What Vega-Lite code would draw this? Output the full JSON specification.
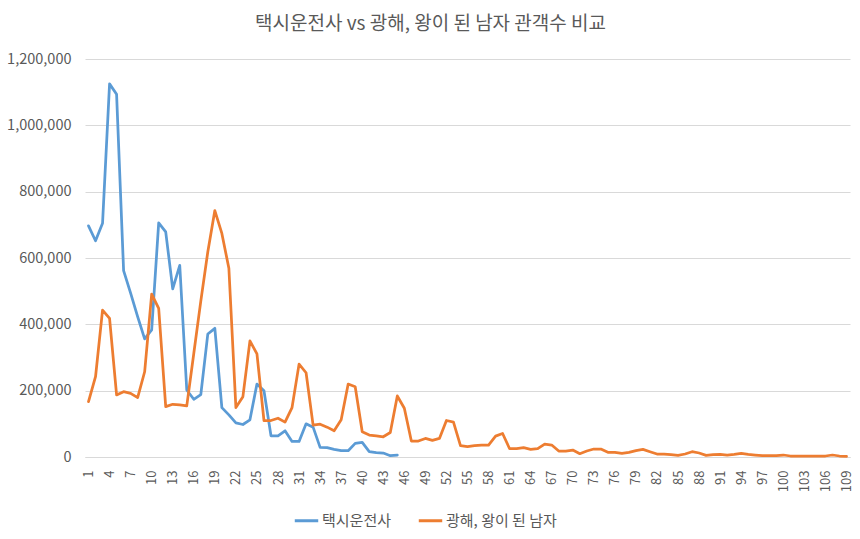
{
  "$schema": "https://vega.github.io/schema/vega-lite/v6.json",
  "autosize": "none",
  "width": 765,
  "height": 398,
  "padding": {"left": 85, "top": 59, "right": 10, "bottom": 82},
  "background": "white",
  "title": {
    "text": "택시운전사 vs 광해, 왕이 된 남자 관객수 비교",
    "font": "Noto Sans CJK KR",
    "fontSize": 19,
    "fontWeight": "normal",
    "color": "#595959",
    "anchor": "middle",
    "dx": -37,
    "offset": 17
  },
  "config": {
    "view": {"stroke": null},
    "font": "Noto Sans CJK KR",
    "axis": {
      "labelFont": "Noto Sans CJK KR",
      "labelColor": "#595959",
      "labelFontSize": 13,
      "titleFontSize": 0
    }
  },
  "data": {
    "values": [
      {"movie": "택시운전사", "day": 1, "audience": 697000},
      {"movie": "택시운전사", "day": 2, "audience": 652000},
      {"movie": "택시운전사", "day": 3, "audience": 705000},
      {"movie": "택시운전사", "day": 4, "audience": 1125000},
      {"movie": "택시운전사", "day": 5, "audience": 1094000},
      {"movie": "택시운전사", "day": 6, "audience": 562000},
      {"movie": "택시운전사", "day": 7, "audience": 494000},
      {"movie": "택시운전사", "day": 8, "audience": 423000},
      {"movie": "택시운전사", "day": 9, "audience": 356000},
      {"movie": "택시운전사", "day": 10, "audience": 383000},
      {"movie": "택시운전사", "day": 11, "audience": 706000},
      {"movie": "택시운전사", "day": 12, "audience": 679000},
      {"movie": "택시운전사", "day": 13, "audience": 507000},
      {"movie": "택시운전사", "day": 14, "audience": 578000},
      {"movie": "택시운전사", "day": 15, "audience": 202000},
      {"movie": "택시운전사", "day": 16, "audience": 174000},
      {"movie": "택시운전사", "day": 17, "audience": 188000},
      {"movie": "택시운전사", "day": 18, "audience": 371000},
      {"movie": "택시운전사", "day": 19, "audience": 388000},
      {"movie": "택시운전사", "day": 20, "audience": 149000},
      {"movie": "택시운전사", "day": 21, "audience": 127000},
      {"movie": "택시운전사", "day": 22, "audience": 103000},
      {"movie": "택시운전사", "day": 23, "audience": 98000},
      {"movie": "택시운전사", "day": 24, "audience": 112000},
      {"movie": "택시운전사", "day": 25, "audience": 220000},
      {"movie": "택시운전사", "day": 26, "audience": 200000},
      {"movie": "택시운전사", "day": 27, "audience": 64000},
      {"movie": "택시운전사", "day": 28, "audience": 64000},
      {"movie": "택시운전사", "day": 29, "audience": 79000},
      {"movie": "택시운전사", "day": 30, "audience": 47000},
      {"movie": "택시운전사", "day": 31, "audience": 47000},
      {"movie": "택시운전사", "day": 32, "audience": 100000},
      {"movie": "택시운전사", "day": 33, "audience": 90000},
      {"movie": "택시운전사", "day": 34, "audience": 29000},
      {"movie": "택시운전사", "day": 35, "audience": 28000},
      {"movie": "택시운전사", "day": 36, "audience": 23000},
      {"movie": "택시운전사", "day": 37, "audience": 19000},
      {"movie": "택시운전사", "day": 38, "audience": 19000},
      {"movie": "택시운전사", "day": 39, "audience": 41000},
      {"movie": "택시운전사", "day": 40, "audience": 44000},
      {"movie": "택시운전사", "day": 41, "audience": 16000},
      {"movie": "택시운전사", "day": 42, "audience": 13000},
      {"movie": "택시운전사", "day": 43, "audience": 12000},
      {"movie": "택시운전사", "day": 44, "audience": 4000},
      {"movie": "택시운전사", "day": 45, "audience": 6000},
      {"movie": "광해, 왕이 된 남자", "day": 1, "audience": 167000},
      {"movie": "광해, 왕이 된 남자", "day": 2, "audience": 242000},
      {"movie": "광해, 왕이 된 남자", "day": 3, "audience": 443000},
      {"movie": "광해, 왕이 된 남자", "day": 4, "audience": 418000},
      {"movie": "광해, 왕이 된 남자", "day": 5, "audience": 187000},
      {"movie": "광해, 왕이 된 남자", "day": 6, "audience": 197000},
      {"movie": "광해, 왕이 된 남자", "day": 7, "audience": 192000},
      {"movie": "광해, 왕이 된 남자", "day": 8, "audience": 179000},
      {"movie": "광해, 왕이 된 남자", "day": 9, "audience": 257000},
      {"movie": "광해, 왕이 된 남자", "day": 10, "audience": 491000},
      {"movie": "광해, 왕이 된 남자", "day": 11, "audience": 448000},
      {"movie": "광해, 왕이 된 남자", "day": 12, "audience": 152000},
      {"movie": "광해, 왕이 된 남자", "day": 13, "audience": 159000},
      {"movie": "광해, 왕이 된 남자", "day": 14, "audience": 157000},
      {"movie": "광해, 왕이 된 남자", "day": 15, "audience": 154000},
      {"movie": "광해, 왕이 된 남자", "day": 16, "audience": 312000},
      {"movie": "광해, 왕이 된 남자", "day": 17, "audience": 470000},
      {"movie": "광해, 왕이 된 남자", "day": 18, "audience": 619000},
      {"movie": "광해, 왕이 된 남자", "day": 19, "audience": 743000},
      {"movie": "광해, 왕이 된 남자", "day": 20, "audience": 674000},
      {"movie": "광해, 왕이 된 남자", "day": 21, "audience": 569000},
      {"movie": "광해, 왕이 된 남자", "day": 22, "audience": 149000},
      {"movie": "광해, 왕이 된 남자", "day": 23, "audience": 182000},
      {"movie": "광해, 왕이 된 남자", "day": 24, "audience": 350000},
      {"movie": "광해, 왕이 된 남자", "day": 25, "audience": 311000},
      {"movie": "광해, 왕이 된 남자", "day": 26, "audience": 110000},
      {"movie": "광해, 왕이 된 남자", "day": 27, "audience": 110000},
      {"movie": "광해, 왕이 된 남자", "day": 28, "audience": 117000},
      {"movie": "광해, 왕이 된 남자", "day": 29, "audience": 105000},
      {"movie": "광해, 왕이 된 남자", "day": 30, "audience": 149000},
      {"movie": "광해, 왕이 된 남자", "day": 31, "audience": 280000},
      {"movie": "광해, 왕이 된 남자", "day": 32, "audience": 254000},
      {"movie": "광해, 왕이 된 남자", "day": 33, "audience": 96000},
      {"movie": "광해, 왕이 된 남자", "day": 34, "audience": 99000},
      {"movie": "광해, 왕이 된 남자", "day": 35, "audience": 90000},
      {"movie": "광해, 왕이 된 남자", "day": 36, "audience": 79000},
      {"movie": "광해, 왕이 된 남자", "day": 37, "audience": 112000},
      {"movie": "광해, 왕이 된 남자", "day": 38, "audience": 220000},
      {"movie": "광해, 왕이 된 남자", "day": 39, "audience": 212000},
      {"movie": "광해, 왕이 된 남자", "day": 40, "audience": 76000},
      {"movie": "광해, 왕이 된 남자", "day": 41, "audience": 66000},
      {"movie": "광해, 왕이 된 남자", "day": 42, "audience": 64000},
      {"movie": "광해, 왕이 된 남자", "day": 43, "audience": 61000},
      {"movie": "광해, 왕이 된 남자", "day": 44, "audience": 74000},
      {"movie": "광해, 왕이 된 남자", "day": 45, "audience": 184000},
      {"movie": "광해, 왕이 된 남자", "day": 46, "audience": 147000},
      {"movie": "광해, 왕이 된 남자", "day": 47, "audience": 48000},
      {"movie": "광해, 왕이 된 남자", "day": 48, "audience": 48000},
      {"movie": "광해, 왕이 된 남자", "day": 49, "audience": 56000},
      {"movie": "광해, 왕이 된 남자", "day": 50, "audience": 50000},
      {"movie": "광해, 왕이 된 남자", "day": 51, "audience": 56000},
      {"movie": "광해, 왕이 된 남자", "day": 52, "audience": 110000},
      {"movie": "광해, 왕이 된 남자", "day": 53, "audience": 105000},
      {"movie": "광해, 왕이 된 남자", "day": 54, "audience": 34000},
      {"movie": "광해, 왕이 된 남자", "day": 55, "audience": 31000},
      {"movie": "광해, 왕이 된 남자", "day": 56, "audience": 34000},
      {"movie": "광해, 왕이 된 남자", "day": 57, "audience": 36000},
      {"movie": "광해, 왕이 된 남자", "day": 58, "audience": 36000},
      {"movie": "광해, 왕이 된 남자", "day": 59, "audience": 63000},
      {"movie": "광해, 왕이 된 남자", "day": 60, "audience": 71000},
      {"movie": "광해, 왕이 된 남자", "day": 61, "audience": 25000},
      {"movie": "광해, 왕이 된 남자", "day": 62, "audience": 25000},
      {"movie": "광해, 왕이 된 남자", "day": 63, "audience": 28000},
      {"movie": "광해, 왕이 된 남자", "day": 64, "audience": 23000},
      {"movie": "광해, 왕이 된 남자", "day": 65, "audience": 25000},
      {"movie": "광해, 왕이 된 남자", "day": 66, "audience": 39000},
      {"movie": "광해, 왕이 된 남자", "day": 67, "audience": 36000},
      {"movie": "광해, 왕이 된 남자", "day": 68, "audience": 18000},
      {"movie": "광해, 왕이 된 남자", "day": 69, "audience": 18000},
      {"movie": "광해, 왕이 된 남자", "day": 70, "audience": 21000},
      {"movie": "광해, 왕이 된 남자", "day": 71, "audience": 10000},
      {"movie": "광해, 왕이 된 남자", "day": 72, "audience": 18000},
      {"movie": "광해, 왕이 된 남자", "day": 73, "audience": 24000},
      {"movie": "광해, 왕이 된 남자", "day": 74, "audience": 24000},
      {"movie": "광해, 왕이 된 남자", "day": 75, "audience": 14000},
      {"movie": "광해, 왕이 된 남자", "day": 76, "audience": 14000},
      {"movie": "광해, 왕이 된 남자", "day": 77, "audience": 11000},
      {"movie": "광해, 왕이 된 남자", "day": 78, "audience": 14000},
      {"movie": "광해, 왕이 된 남자", "day": 79, "audience": 19000},
      {"movie": "광해, 왕이 된 남자", "day": 80, "audience": 23000},
      {"movie": "광해, 왕이 된 남자", "day": 81, "audience": 16000},
      {"movie": "광해, 왕이 된 남자", "day": 82, "audience": 9000},
      {"movie": "광해, 왕이 된 남자", "day": 83, "audience": 9000},
      {"movie": "광해, 왕이 된 남자", "day": 84, "audience": 7000},
      {"movie": "광해, 왕이 된 남자", "day": 85, "audience": 5000},
      {"movie": "광해, 왕이 된 남자", "day": 86, "audience": 9000},
      {"movie": "광해, 왕이 된 남자", "day": 87, "audience": 16000},
      {"movie": "광해, 왕이 된 남자", "day": 88, "audience": 12000},
      {"movie": "광해, 왕이 된 남자", "day": 89, "audience": 5000},
      {"movie": "광해, 왕이 된 남자", "day": 90, "audience": 7000},
      {"movie": "광해, 왕이 된 남자", "day": 91, "audience": 8000},
      {"movie": "광해, 왕이 된 남자", "day": 92, "audience": 6000},
      {"movie": "광해, 왕이 된 남자", "day": 93, "audience": 8000},
      {"movie": "광해, 왕이 된 남자", "day": 94, "audience": 11000},
      {"movie": "광해, 왕이 된 남자", "day": 95, "audience": 8000},
      {"movie": "광해, 왕이 된 남자", "day": 96, "audience": 6000},
      {"movie": "광해, 왕이 된 남자", "day": 97, "audience": 4000},
      {"movie": "광해, 왕이 된 남자", "day": 98, "audience": 4000},
      {"movie": "광해, 왕이 된 남자", "day": 99, "audience": 4000},
      {"movie": "광해, 왕이 된 남자", "day": 100, "audience": 6000},
      {"movie": "광해, 왕이 된 남자", "day": 101, "audience": 3000},
      {"movie": "광해, 왕이 된 남자", "day": 102, "audience": 3000},
      {"movie": "광해, 왕이 된 남자", "day": 103, "audience": 3000},
      {"movie": "광해, 왕이 된 남자", "day": 104, "audience": 3000},
      {"movie": "광해, 왕이 된 남자", "day": 105, "audience": 3000},
      {"movie": "광해, 왕이 된 남자", "day": 106, "audience": 3000},
      {"movie": "광해, 왕이 된 남자", "day": 107, "audience": 6000},
      {"movie": "광해, 왕이 된 남자", "day": 108, "audience": 3000},
      {"movie": "광해, 왕이 된 남자", "day": 109, "audience": 2000}
    ]
  },
  "mark": {"type": "line", "strokeWidth": 2.75, "strokeJoin": "round", "strokeCap": "round"},
  "encoding": {
    "x": {
      "field": "day",
      "type": "quantitative",
      "scale": {"domain": [0.5, 109.5], "nice": false, "zero": false},
      "axis": {
        "title": null,
        "values": [1, 4, 7, 10, 13, 16, 19, 22, 25, 28, 31, 34, 37, 40, 43, 46, 49, 52, 55, 58, 61, 64, 67, 70, 73, 76, 79, 82, 85, 88, 91, 94, 97, 100, 103, 106, 109],
        "labelAngle": -90,
        "labelAlign": "right",
        "labelBaseline": "middle",
        "labelPadding": 13,
        "ticks": false,
        "grid": false,
        "domain": true,
        "domainColor": "#d9d9d9",
        "domainWidth": 1,
        "labelOverlap": false,
        "labelFontSize": 13
      }
    },
    "y": {
      "field": "audience",
      "type": "quantitative",
      "scale": {"domain": [0, 1200000], "nice": false},
      "axis": {
        "title": null,
        "values": [0, 200000, 400000, 600000, 800000, 1000000, 1200000],
        "format": ",d",
        "ticks": false,
        "domain": false,
        "grid": true,
        "gridColor": "#d9d9d9",
        "gridWidth": 1,
        "labelPadding": 14,
        "labelFontSize": 14.5
      }
    },
    "color": {
      "field": "movie",
      "type": "nominal",
      "sort": ["택시운전사", "광해, 왕이 된 남자"],
      "scale": {"domain": ["택시운전사", "광해, 왕이 된 남자"], "range": ["#5B9BD5", "#ED7D31"]},
      "legend": {
        "title": null,
        "orient": "none",
        "direction": "horizontal",
        "legendX": 208,
        "legendY": 448,
        "symbolType": "stroke",
        "symbolSize": 550,
        "symbolStrokeWidth": 3,
        "labelFont": "Noto Sans CJK KR",
        "labelFontSize": 15,
        "labelColor": "#595959",
        "labelOffset": 2,
        "columnPadding": 20
      }
    }
  }
}
